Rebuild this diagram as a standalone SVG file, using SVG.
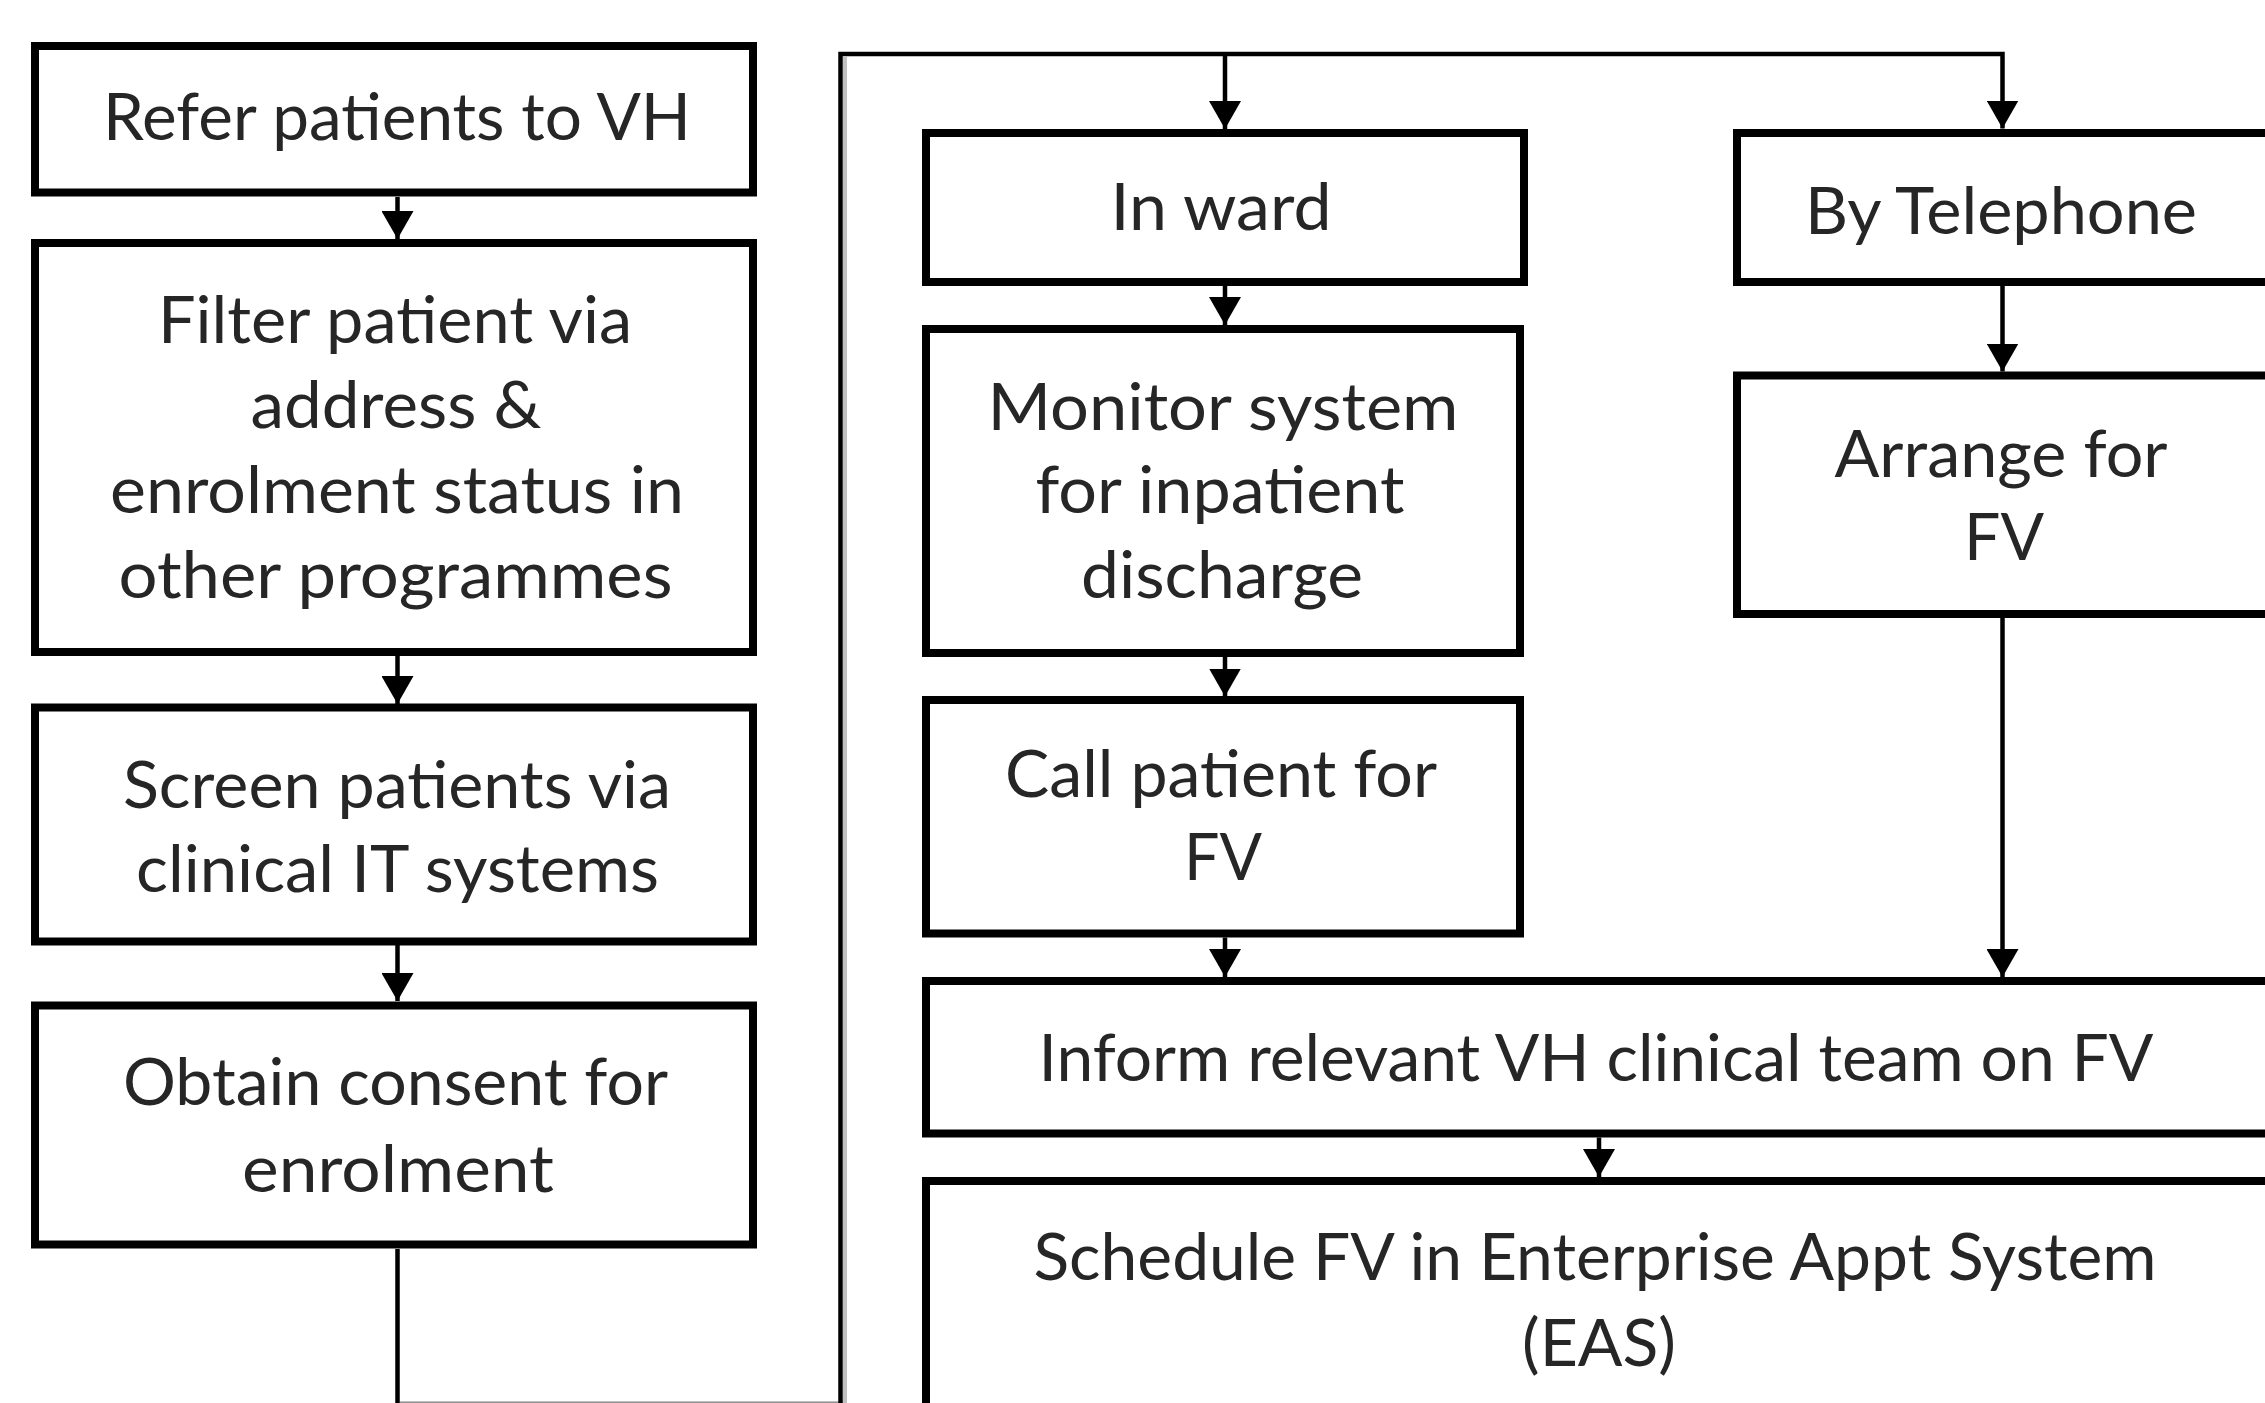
<svg xmlns="http://www.w3.org/2000/svg" width="2265" height="1403" viewBox="0 0 2265 1403">
  <style>
    .box { fill: #ffffff; stroke: #000000; stroke-width: 8; }
    .lbl { font-family: Lato, "Liberation Sans", sans-serif; font-size: 65px; fill: #262626; text-anchor: middle; }
    .conn { fill: none; stroke: #000000; stroke-width: 4.5; }
    .shadow { fill: none; stroke: #c0c0c0; }
  </style>
  <defs>
    <marker id="arrow" markerUnits="userSpaceOnUse" markerWidth="30" markerHeight="32" refX="28" refY="16" orient="auto">
      <path d="M0,0 L28,16 L0,32 Z" fill="#000000"/>
    </marker>
  </defs>
  <rect width="2265" height="1403" fill="#ffffff"/>

  <g id="connectors">
    <path class="shadow" stroke-width="4" d="M845,57 V1403"/>
    <path class="shadow" stroke-width="2" d="M400,1402 H843"/>
    <path class="conn" d="M397.5,197 V239" marker-end="url(#arrow)"/>
    <path class="conn" d="M397.5,656 V704" marker-end="url(#arrow)"/>
    <path class="conn" d="M397.5,945 V1001" marker-end="url(#arrow)"/>
    <path class="conn" d="M397.5,1249 V1405 H840.5 V54 H2002.5 V128.5" marker-end="url(#arrow)"/>
    <path class="conn" d="M1225,54 V129" marker-end="url(#arrow)"/>
    <path class="conn" d="M1225,286 V325" marker-end="url(#arrow)"/>
    <path class="conn" d="M1225,657 V696.5" marker-end="url(#arrow)"/>
    <path class="conn" d="M1225,937.5 V977" marker-end="url(#arrow)"/>
    <path class="conn" d="M2002.5,286 V371.5" marker-end="url(#arrow)"/>
    <path class="conn" d="M2002.5,618 V977" marker-end="url(#arrow)"/>
    <path class="conn" d="M1599,1137.5 V1177" marker-end="url(#arrow)"/>
  </g>

  <g id="refer">
    <rect class="box" x="35" y="46" width="718" height="146.5"/>
    <text class="lbl" x="397" y="140" textLength="588" lengthAdjust="spacingAndGlyphs">Refer patients to VH</text>
  </g>
  <g id="filter">
    <rect class="box" x="35" y="243" width="718" height="409"/>
    <text class="lbl" x="395" y="343" textLength="474" lengthAdjust="spacingAndGlyphs">Filter patient via</text>
    <text class="lbl" x="396" y="428" textLength="291" lengthAdjust="spacingAndGlyphs">address &amp;</text>
    <text class="lbl" x="397" y="513" textLength="574" lengthAdjust="spacingAndGlyphs">enrolment status in</text>
    <text class="lbl" x="395.5" y="598" textLength="554" lengthAdjust="spacingAndGlyphs">other programmes</text>
  </g>
  <g id="screen">
    <rect class="box" x="35" y="707.5" width="718" height="234"/>
    <text class="lbl" x="397" y="808" textLength="548" lengthAdjust="spacingAndGlyphs">Screen patients via</text>
    <text class="lbl" x="397.5" y="892" textLength="523" lengthAdjust="spacingAndGlyphs">clinical IT systems</text>
  </g>
  <g id="consent">
    <rect class="box" x="35" y="1005.5" width="718" height="239"/>
    <text class="lbl" x="395.5" y="1105" textLength="545" lengthAdjust="spacingAndGlyphs">Obtain consent for</text>
    <text class="lbl" x="398" y="1192" textLength="312" lengthAdjust="spacingAndGlyphs">enrolment</text>
  </g>

  <g id="inward">
    <rect class="box" x="926" y="133" width="598" height="149"/>
    <text class="lbl" x="1221" y="230" textLength="221" lengthAdjust="spacingAndGlyphs">In ward</text>
  </g>
  <g id="telephone">
    <rect class="box" x="1737" y="133" width="600" height="149"/>
    <text class="lbl" x="2001" y="234" textLength="392" lengthAdjust="spacingAndGlyphs">By Telephone</text>
  </g>
  <g id="monitor">
    <rect class="box" x="926" y="329" width="594" height="324"/>
    <text class="lbl" x="1223" y="430" textLength="471" lengthAdjust="spacingAndGlyphs">Monitor system</text>
    <text class="lbl" x="1220" y="513" textLength="369" lengthAdjust="spacingAndGlyphs">for inpatient</text>
    <text class="lbl" x="1222" y="598" textLength="282" lengthAdjust="spacingAndGlyphs">discharge</text>
  </g>
  <g id="arrange">
    <rect class="box" x="1737" y="375.5" width="600" height="238.5"/>
    <text class="lbl" x="2001" y="477" textLength="333" lengthAdjust="spacingAndGlyphs">Arrange for</text>
    <text class="lbl" x="2004" y="560" textLength="80" lengthAdjust="spacingAndGlyphs">FV</text>
  </g>
  <g id="call">
    <rect class="box" x="926" y="700" width="594" height="233.5"/>
    <text class="lbl" x="1221" y="797" textLength="432" lengthAdjust="spacingAndGlyphs">Call patient for</text>
    <text class="lbl" x="1223" y="880" textLength="78" lengthAdjust="spacingAndGlyphs">FV</text>
  </g>
  <g id="inform">
    <rect class="box" x="926" y="981" width="1400" height="152.5"/>
    <text class="lbl" x="1596" y="1081" textLength="1115" lengthAdjust="spacingAndGlyphs">Inform relevant VH clinical team on FV</text>
  </g>
  <g id="schedule">
    <rect class="box" x="926" y="1181" width="1400" height="300"/>
    <text class="lbl" x="1595" y="1280" textLength="1123" lengthAdjust="spacingAndGlyphs">Schedule FV in Enterprise Appt System</text>
    <text class="lbl" x="1599" y="1366" textLength="154" lengthAdjust="spacingAndGlyphs">(EAS)</text>
  </g>
</svg>
